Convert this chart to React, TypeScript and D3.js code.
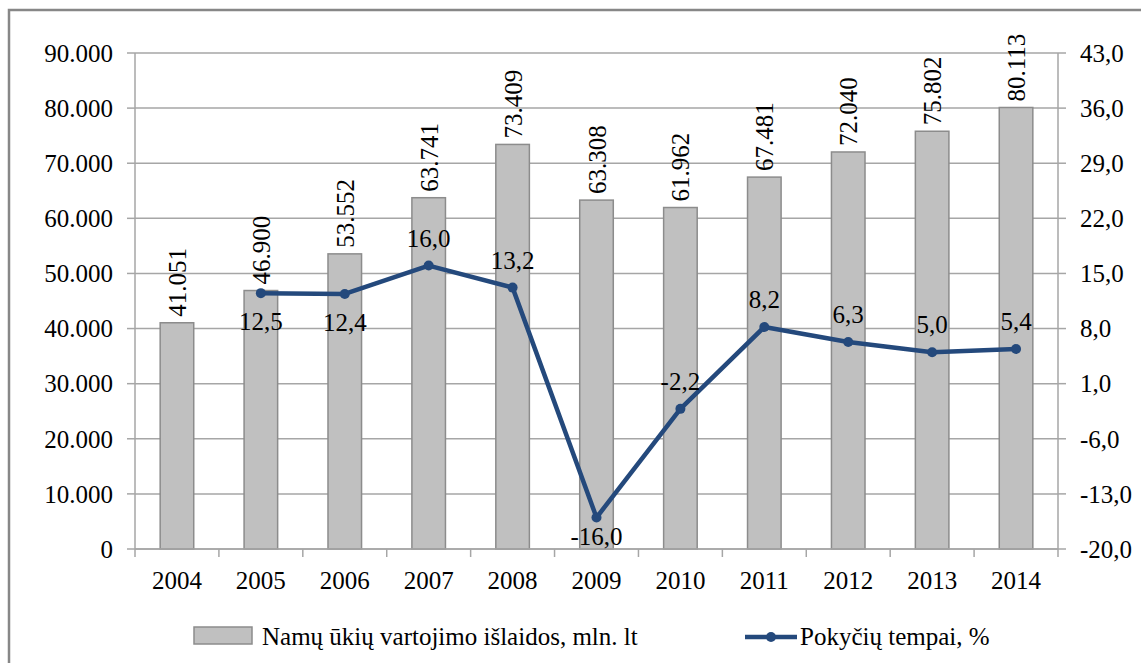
import React from "react";
import * as d3 from "d3";

// data
const years = ["2004", "2005", "2006", "2007", "2008", "2009", "2010", "2011", "2012", "2013", "2014"];
const spending = [41051, 46900, 53552, 63741, 73409, 63308, 61962, 67481, 72040, 75802, 80113];
const growth: (number | null)[] = [null, 12.5, 12.4, 16.0, 13.2, -16.0, -2.2, 8.2, 6.3, 5.0, 5.4];
const growthLabelBelow = [false, true, true, false, false, true, false, false, false, false, false];
const leftTicks = [0, 10000, 20000, 30000, 40000, 50000, 60000, 70000, 80000, 90000];
const rightTicks = [-20, -13, -6, 1, 8, 15, 22, 29, 36, 43];

const W = 1141, H = 663;
const m = { l: 135, r: 1058, t: 53, b: 549 };
const FONT = "'Liberation Serif', 'Times New Roman', serif";
const FS = 25;
const LINE = "#24497C";
const GRID = "#A6A6A6";

const fmtThousands = (v: number) => (v === 0 ? "0" : d3.format(",")(v).replace(/,/g, "."));
const fmtComma = (v: number) => v.toFixed(1).replace(".", ",");

export default function App() {
  const x = d3.scaleBand<string>().domain(years).range([m.l, m.r]).paddingInner(0.6).paddingOuter(0.3);
  const xc = (y: string) => (x(y) ?? 0) + x.bandwidth() / 2;
  const step = (m.r - m.l) / years.length;
  const yL = d3.scaleLinear().domain([0, 90000]).range([m.b, m.t]);
  const yR = d3.scaleLinear().domain([-20, 43]).range([m.b, m.t]);

  const pts = years
    .map((yr, i) => ({ yr, v: growth[i], below: growthLabelBelow[i] }))
    .filter((d) => d.v !== null) as { yr: string; v: number; below: boolean }[];
  const line = d3.line<{ yr: string; v: number }>().x((d) => xc(d.yr)).y((d) => yR(d.v));
  // labels below points are kept above the category axis
  const labelY = (d: { v: number; below: boolean }) =>
    d.below ? Math.min(yR(d.v) + 37, m.b - 4) : yR(d.v) - 19;

  return (
    <svg width={W} height={H} style={{ position: "fixed", left: 0, top: 0, background: "#fff" }} fontFamily={FONT}>
      <rect x={9} y={10} width={W + 10} height={H + 10} fill="#fff" stroke="#878787" strokeWidth={2.5} />
      {/* gridlines */}
      {leftTicks.map((t) => (
        <line key={"g" + t} x1={m.l} x2={m.r} y1={yL(t)} y2={yL(t)} stroke={GRID} strokeWidth={1.5} />
      ))}
      {/* bars */}
      {spending.map((v, i) => (
        <rect key={"b" + i} x={x(years[i])} y={yL(v)} width={x.bandwidth()} height={m.b - yL(v)}
          fill="#C0C0C0" stroke="#8C8C8C" strokeWidth={1.5} />
      ))}
      {/* axes */}
      <line x1={m.l} x2={m.l} y1={m.t} y2={m.b} stroke={GRID} strokeWidth={1.5} />
      <line x1={m.r} x2={m.r} y1={m.t} y2={m.b} stroke={GRID} strokeWidth={1.5} />
      <line x1={m.l} x2={m.r} y1={m.b} y2={m.b} stroke={GRID} strokeWidth={1.5} />
      {leftTicks.map((t) => (
        <g key={"l" + t}>
          <line x1={m.l - 8} x2={m.l} y1={yL(t)} y2={yL(t)} stroke={GRID} strokeWidth={1.5} />
          <text x={m.l - 22} y={yL(t)} dy="0.35em" textAnchor="end" fontSize={FS} fill="#000">{fmtThousands(t)}</text>
        </g>
      ))}
      {rightTicks.map((t) => (
        <g key={"r" + t}>
          <line x1={m.r} x2={m.r + 8} y1={yR(t)} y2={yR(t)} stroke={GRID} strokeWidth={1.5} />
          <text x={m.r + 22} y={yR(t)} dy="0.35em" textAnchor="start" fontSize={FS} fill="#000">{fmtComma(t)}</text>
        </g>
      ))}
      {years.map((yr, i) => (
        <g key={"x" + yr}>
          <line x1={m.l + step * i} x2={m.l + step * i} y1={m.b} y2={m.b + 8} stroke={GRID} strokeWidth={1.5} />
          <text x={xc(yr)} y={m.b + 40} textAnchor="middle" fontSize={FS} fill="#000">{yr}</text>
        </g>
      ))}
      <line x1={m.r} x2={m.r} y1={m.b} y2={m.b + 8} stroke={GRID} strokeWidth={1.5} />
      {/* bar value labels */}
      {spending.map((v, i) => (
        <text key={"bl" + i} transform={`translate(${xc(years[i]) + 9},${yL(v) - 6}) rotate(-90)`}
          fontSize={FS} fill="#000">{fmtThousands(v)}</text>
      ))}
      {/* line */}
      <path d={line(pts) ?? ""} fill="none" stroke={LINE} strokeWidth={4.5} strokeLinejoin="round" />
      {pts.map((d) => (
        <circle key={"c" + d.yr} cx={xc(d.yr)} cy={yR(d.v)} r={5} fill={LINE} />
      ))}
      {pts.map((d) => (
        <text key={"pl" + d.yr} x={xc(d.yr)} y={labelY(d)} textAnchor="middle"
          fontSize={FS} fill="#000">{fmtComma(d.v)}</text>
      ))}
      {/* legend */}
      <rect x={194} y={627} width={58} height={17} fill="#C0C0C0" stroke="#8C8C8C" strokeWidth={1.5} />
      <text x={262} y={645} fontSize={FS} fill="#000">Namų ūkių vartojimo išlaidos, mln. lt</text>
      <line x1={745} x2={797} y1={637} y2={637} stroke={LINE} strokeWidth={4.5} />
      <circle cx={771} cy={637} r={5} fill={LINE} />
      <text x={800} y={645} fontSize={FS} fill="#000">Pokyčių tempai, %</text>
    </svg>
  );
}
